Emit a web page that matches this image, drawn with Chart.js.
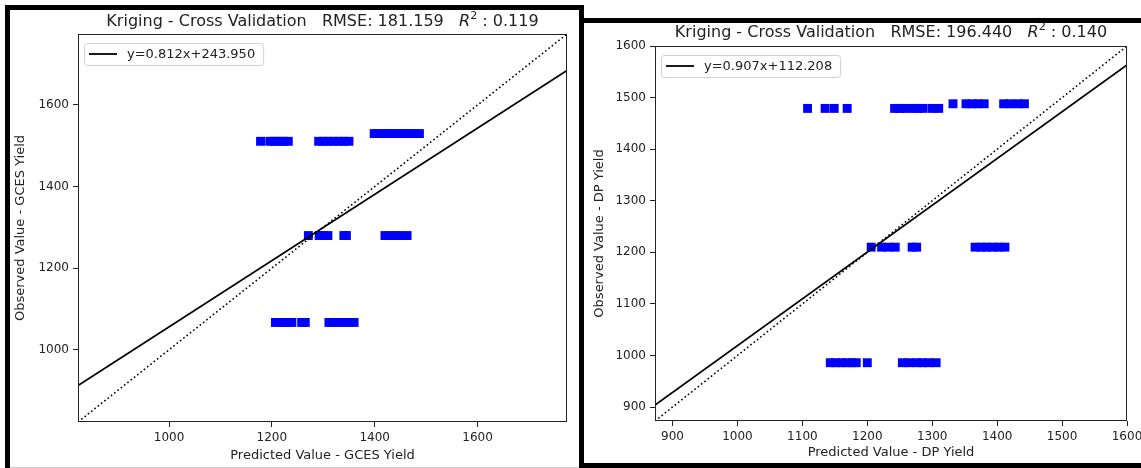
<!DOCTYPE html>
<html>
<head>
<meta charset="utf-8">
<script src="https://cdn.jsdelivr.net/npm/chart.js@4.4.1/dist/chart.umd.min.js"></script>
<style>
  html, body { margin: 0; padding: 0; background: #fff; width: 1141px; height: 468px; overflow: hidden; position: relative; }
  .frame { position: absolute; box-sizing: border-box; border: 5px solid #000; background: #fff; }
  #frameL { left: 5px; top: 5px; width: 579px; height: 480px; }
  #frameR { left: 579px; top: 18px; width: 620px; height: 450px; }
  #strip { position: absolute; left: 10px; top: 467px; width: 569px; height: 1px; background: #cfcfcf; }
  canvas { position: absolute; }
  #chartL { left: 10px; top: 10px; }
  #chartR { left: 584px; top: 23px; }
</style>
</head>
<body>
<div class="frame" id="frameL"></div>
<div class="frame" id="frameR"></div>
<div id="strip"></div>
<canvas id="chartL" width="568" height="455"></canvas>
<canvas id="chartR" width="576" height="440"></canvas>
<script>
// GCES yield: observed levels and the predicted values at each level
const gcesObserved = [1511, 1530, 1280, 1067];
const gcesPred1511 = [1178, 1196, 1205, 1214, 1223, 1232, 1291, 1300, 1310, 1320, 1330, 1340, 1350];
const gcesPred1530 = [1399, 1408, 1418, 1428, 1438, 1448, 1458, 1468, 1478, 1487];
const gcesPred1280 = [1271, 1292, 1300, 1309, 1340, 1345, 1420, 1430, 1440, 1450, 1463];
const gcesPred1067 = [1207, 1215, 1223, 1231, 1239, 1258, 1265, 1311, 1320, 1330, 1340, 1350, 1360];
const gcesPredicted = [gcesPred1511, gcesPred1530, gcesPred1280, gcesPred1067];
const gcesSlope = 0.812, gcesIntercept = 243.950;
const gcesRmse = '181.159', gcesR2 = '0.119';
const gcesMin = 823, gcesMax = 1774;
const gcesTicks = [1000, 1200, 1400, 1600];

// DP yield
const dpObserved = [1479, 1488, 1210, 986];
const dpPred1479 = [1108, 1135, 1149, 1169, 1242, 1250, 1258, 1270, 1278, 1286, 1300, 1310];
const dpPred1488 = [1332, 1352, 1361, 1370, 1380, 1410, 1420, 1432, 1442];
const dpPred1210 = [1206, 1222, 1232, 1243, 1269, 1276, 1366, 1375, 1384, 1393, 1402, 1412];
const dpPred986 = [1143, 1151, 1160, 1168, 1176, 1183, 1200, 1254, 1264, 1276, 1285, 1295, 1306];
const dpPredicted = [dpPred1479, dpPred1488, dpPred1210, dpPred986];
const dpSlope = 0.907, dpIntercept = 112.208;
const dpRmse = '196.440', dpR2 = '0.140';
const dpMin = 873, dpMax = 1600;
const dpTicks = [900, 1000, 1100, 1200, 1300, 1400, 1500, 1600];

const FONT = '"DejaVu Sans"';
const INK = '#222';

function toPoints(observed, predicted) {
    const pts = [];
    observed.forEach((obs, i) => predicted[i].forEach(p => pts.push({ x: p, y: obs })));
    return pts;
}

function titlePlugin(rmse, r2, baseline) {
    return {
        id: 'mplTitle',
        afterDraw(chart) {
            const ctx = chart.ctx, a = chart.chartArea, sz = 16;
            const parts = [
                ['Kriging - Cross Validation   RMSE: ' + rmse + '   ', sz + 'px ' + FONT, 0],
                ['R', 'italic ' + sz + 'px ' + FONT, 0],
                ['2', (sz * 0.7) + 'px ' + FONT, -sz * 0.42],
                [' : ' + r2, sz + 'px ' + FONT, 0]
            ];
            ctx.save();
            let total = 0;
            parts.forEach(p => { ctx.font = p[1]; p.push(ctx.measureText(p[0]).width); total += p[3]; });
            let x = (a.left + a.right) / 2 - total / 2;
            ctx.fillStyle = INK;
            ctx.textAlign = 'left';
            ctx.textBaseline = 'alphabetic';
            parts.forEach(p => { ctx.font = p[1]; ctx.fillText(p[0], x, baseline + p[2]); x += p[3]; });
            ctx.restore();
        }
    };
}

function framePlugin(label) {
    return {
        id: 'mplFrame',
        afterDraw(chart) {
            const ctx = chart.ctx, a = chart.chartArea;
            ctx.save();
            // axes box
            ctx.strokeStyle = INK;
            ctx.lineWidth = 1;
            ctx.strokeRect(Math.round(a.left) + 0.5, Math.round(a.top) + 0.5,
                Math.round(a.right - a.left) - 1, Math.round(a.bottom - a.top) - 1);
            // legend
            ctx.font = '13px ' + FONT;
            const tw = ctx.measureText(label).width;
            const x0 = a.left + 6, y0 = a.top + 9, h = 22, w = 43 + tw + 8;
            ctx.beginPath();
            ctx.roundRect(x0 + 0.5, y0 + 0.5, w, h, 3);
            ctx.fillStyle = 'rgba(255,255,255,0.8)';
            ctx.fill();
            ctx.strokeStyle = '#d0d0d0';
            ctx.stroke();
            const cy = y0 + h / 2;
            ctx.beginPath();
            ctx.moveTo(x0 + 5, cy);
            ctx.lineTo(x0 + 33, cy);
            ctx.strokeStyle = '#000';
            ctx.lineWidth = 1.8;
            ctx.stroke();
            ctx.fillStyle = INK;
            ctx.textBaseline = 'middle';
            ctx.fillText(label, x0 + 43, cy + 1);
            ctx.restore();
        }
    };
}

function axis(min, max, ticks, label, size, titlePad) {
    return {
        type: 'linear',
        min: min,
        max: max,
        afterBuildTicks: s => { s.ticks = ticks.map(v => ({ value: v })); },
        afterFit: s => { if (s.isHorizontal()) s.height = size; else s.width = size; },
        grid: { drawOnChartArea: false, drawTicks: true, tickLength: 5, color: INK, lineWidth: 1 },
        border: { display: false },
        ticks: { color: INK, font: { family: 'DejaVu Sans', size: 12 }, padding: 4, autoSkip: false, maxRotation: 0,
            callback: v => String(v) },
        title: { display: true, text: label, color: INK, font: { family: 'DejaVu Sans', size: 13 }, padding: titlePad }
    };
}

function createCvChart(canvasId, cfg) {
    const ctx = document.getElementById(canvasId);
    const fitLabel = 'y=' + cfg.slope.toFixed(3) + 'x+' + cfg.intercept.toFixed(3);
    return new Chart(ctx, {
        type: 'scatter',
        data: {
            datasets: [
                {
                    type: 'line',
                    label: fitLabel,
                    data: [
                        { x: cfg.min, y: cfg.slope * cfg.min + cfg.intercept },
                        { x: cfg.max, y: cfg.slope * cfg.max + cfg.intercept }
                    ],
                    borderColor: '#000',
                    borderWidth: 1.8,
                    pointRadius: 0,
                    order: 0
                },
                {
                    type: 'line',
                    label: '1:1',
                    data: [{ x: cfg.min, y: cfg.min }, { x: cfg.max, y: cfg.max }],
                    borderColor: '#000',
                    borderWidth: 1.6,
                    borderDash: [1.6, 2.6],
                    pointRadius: 0,
                    order: 1
                },
                {
                    label: 'points',
                    data: toPoints(cfg.observed, cfg.predicted),
                    pointStyle: 'rect',
                    pointRadius: 6.3,
                    pointBorderWidth: 0,
                    backgroundColor: '#0000ff',
                    order: 2
                }
            ]
        },
        options: {
            responsive: false,
            animation: false,
            layout: { padding: cfg.padding },
            scales: {
                x: axis(cfg.min, cfg.max, cfg.ticks, cfg.xLabel, cfg.xSize, { top: 0, bottom: cfg.xTitlePad }),
                y: axis(cfg.min, cfg.max, cfg.ticks, cfg.yLabel, cfg.ySize, { top: cfg.yTitlePad, bottom: 0 })
            },
            plugins: { legend: { display: false }, tooltip: { enabled: false } }
        },
        plugins: [titlePlugin(cfg.rmse, cfg.r2, cfg.titleBaseline), framePlugin(fitLabel)]
    });
}

createCvChart('chartL', {
    observed: gcesObserved, predicted: gcesPredicted,
    slope: gcesSlope, intercept: gcesIntercept, rmse: gcesRmse, r2: gcesR2,
    min: gcesMin, max: gcesMax, ticks: gcesTicks,
    xLabel: 'Predicted Value - GCES Yield', yLabel: 'Observed Value - GCES Yield',
    padding: { left: 0, right: 11, top: 24, bottom: 0 },
    xSize: 43, ySize: 68, xTitlePad: 2, yTitlePad: 3, titleBaseline: 16
});

createCvChart('chartR', {
    observed: dpObserved, predicted: dpPredicted,
    slope: dpSlope, intercept: dpIntercept, rmse: dpRmse, r2: dpR2,
    min: dpMin, max: dpMax, ticks: dpTicks,
    xLabel: 'Predicted Value - DP Yield', yLabel: 'Observed Value - DP Yield',
    padding: { left: 0, right: 33, top: 23, bottom: 0 },
    xSize: 42, ySize: 71, xTitlePad: 2.5, yTitlePad: 7.7, titleBaseline: 13.7
});
</script>
</body>
</html>
